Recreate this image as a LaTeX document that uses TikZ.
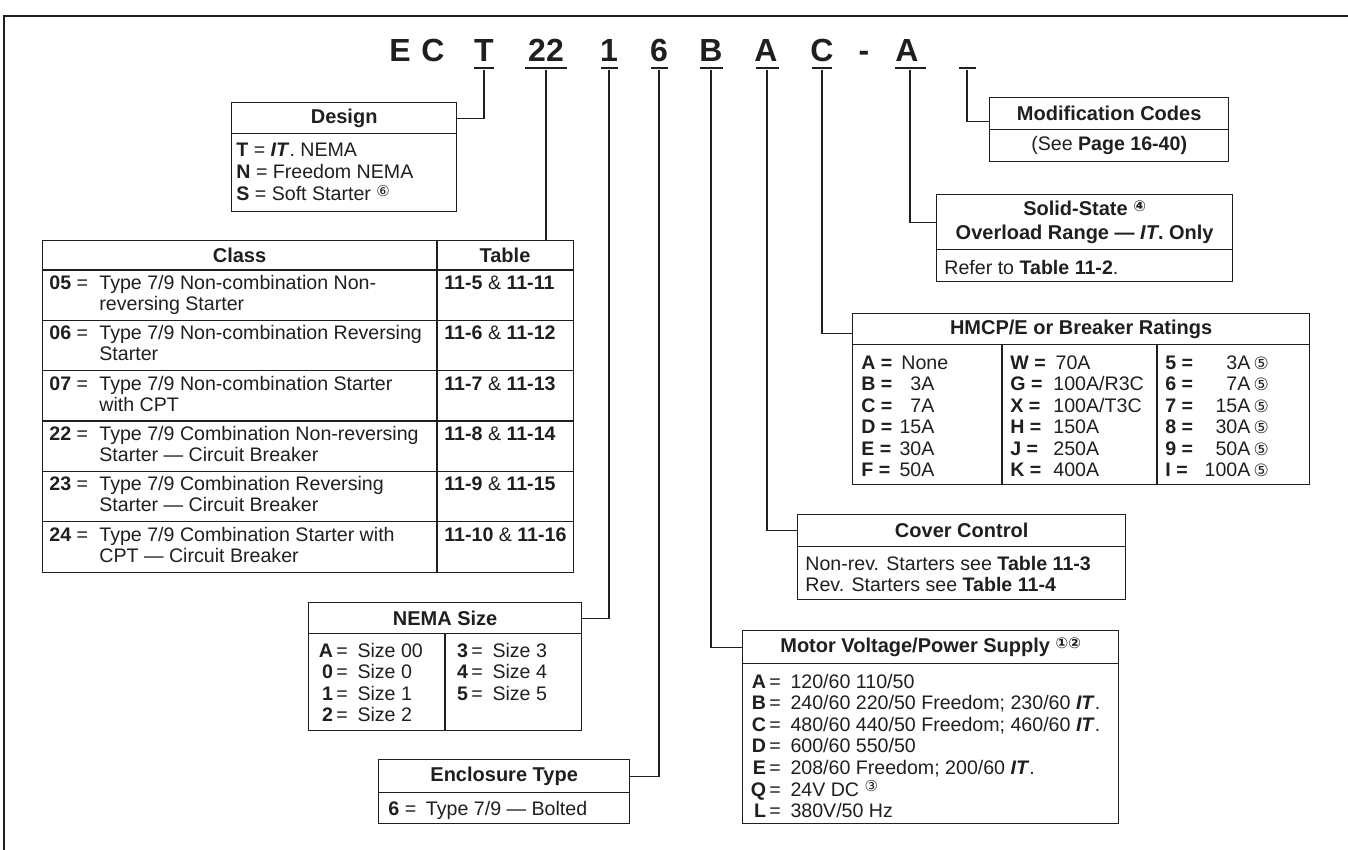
\documentclass[tikz,border=0pt]{standalone}
\usepackage{fontspec}
\setmainfont{Liberation Sans}
\newfontfamily\symfont{DejaVu Sans}
\usetikzlibrary{positioning}
\definecolor{ink}{gray}{0.12}
\newcommand{\circnum}[1]{\raisebox{0.45ex}{\symfont\fontsize{7.5}{7.5}\selectfont #1}}
\newcommand{\flatnum}[1]{{\symfont\fontsize{8.5}{8.5}\selectfont #1}}
\newcommand{\IT}{\textbf{\textit{IT}}}
\newcommand{\kv}[2]{\makebox[1em][r]{\bfseries #1}\,=\enspace #2}
\newcommand{\lines}[1]{\begin{tabular}[t]{@{}l@{}}#1\end{tabular}}
\tikzset{
    box/.style =        {rectangle,
                        draw=ink,
                        line width=0.65pt,
                        inner sep=0pt,
                        anchor=north west},
    head/.style =       {box,
                        font=\bfseries,
                        text=ink},
    codeletter/.style = {font=\fontsize{16}{16}\selectfont\bfseries,
                        text=ink,
                        anchor=base,
                        inner sep=0pt},
    uline/.style =      {fill=ink,
                        inner sep=0pt,
                        minimum height=1.4pt},
    link/.style =       {draw=ink,
                        line width=0.6pt},
    txt/.style =        {anchor=base west,
                        inner sep=0pt,
                        text=ink}}
\begin{document}
\begin{tikzpicture}[x=0.5pt,y=-0.5pt,font=\fontsize{9.8}{10.75}\selectfont]
    \useasboundingbox (0,0) rectangle (1348,850);
    % frame
    \draw[ink, line width=1pt] (1348,16) -- (4,16) -- (4,850);
    % catalog number
    \node[codeletter] (cE)  at (400,62) {E};
    \node[codeletter] (cC)  at (433,62) {C};
    \node[codeletter] (cT)  at (484,62) {T};
    \node[codeletter] (c22) at (546,62) {22};
    \node[codeletter] (c1)  at (609,62) {1};
    \node[codeletter] (c6)  at (659,62) {6};
    \node[codeletter] (cB)  at (711,62) {B};
    \node[codeletter] (cA)  at (766,62) {A};
    \node[codeletter] (cCC) at (822,62) {C};
    \node[codeletter] (cdash) at (864,62) {-};
    \node[codeletter] (cAA) at (907,62) {A};
    \node[uline, minimum width=10pt]   (uT)  at (484,68) {};
    \node[uline, minimum width=21pt]   (u22) at (546,68) {};
    \node[uline, minimum width=8.5pt]  (u1)  at (609,68) {};
    \node[uline, minimum width=8.5pt]  (u6)  at (659,68) {};
    \node[uline, minimum width=11.5pt] (uB)  at (711,68) {};
    \node[uline, minimum width=11.5pt] (uA)  at (767,68) {};
    \node[uline, minimum width=10pt]   (uCC) at (822,68) {};
    \node[uline, minimum width=15.5pt] (uAA) at (910,68) {};
    \node[uline, minimum width=8.5pt]  (ublank) at (967,68) {};

    % design
    \node[head, minimum width=112.5pt, minimum height=15.5pt] (designhead) at (231,102) {Design};
    \node[box, minimum width=112.5pt, minimum height=39pt] (designbody) at (231,133) {};
    \node[txt] (designtext) at (236,157) {\lines{\textbf{T} = \IT. NEMA\\\textbf{N} = Freedom NEMA\\\textbf{S} = Soft Starter \circnum{⑥}}};

    % class table
    \node[box, minimum width=265.5pt, minimum height=166pt] (classtab) at (42,240) {};
    \draw[link] (42,270) -- (573,270);
    \foreach \y in {320.3,370.7,421,471.3,521.7}
        \draw[link] (42,\y) -- (573,\y);
    \draw[link] (437,240) -- (437,572);
    \node[txt, anchor=center, font=\bfseries] (classhead) at (239.5,255) {Class};
    \node[txt, anchor=center, font=\bfseries] (tablehead) at (505,255) {Table};
    \node[txt] (k05) at (49,289) {\textbf{05} =};
    \node[txt] (d05) at (99,289) {\lines{Type 7/9 Non-combination Non-\\reversing Starter}};
    \node[txt] (t05) at (444,289) {\textbf{11-5} \& \textbf{11-11}};
    \node[txt] (k06) at (49,339) {\textbf{06} =};
    \node[txt] (d06) at (99,339) {\lines{Type 7/9 Non-combination Reversing\\Starter}};
    \node[txt] (t06) at (444,339) {\textbf{11-6} \& \textbf{11-12}};
    \node[txt] (k07) at (49,390) {\textbf{07} =};
    \node[txt] (d07) at (99,390) {\lines{Type 7/9 Non-combination Starter\\with CPT}};
    \node[txt] (t07) at (444,390) {\textbf{11-7} \& \textbf{11-13}};
    \node[txt] (k22) at (49,440) {\textbf{22} =};
    \node[txt] (d22) at (99,440) {\lines{Type 7/9 Combination Non-reversing\\Starter — Circuit Breaker}};
    \node[txt] (t22) at (444,440) {\textbf{11-8} \& \textbf{11-14}};
    \node[txt] (k23) at (49,490) {\textbf{23} =};
    \node[txt] (d23) at (99,490) {\lines{Type 7/9 Combination Reversing\\Starter — Circuit Breaker}};
    \node[txt] (t23) at (444,490) {\textbf{11-9} \& \textbf{11-15}};
    \node[txt] (k24) at (49,541) {\textbf{24} =};
    \node[txt] (d24) at (99,541) {\lines{Type 7/9 Combination Starter with\\CPT — Circuit Breaker}};
    \node[txt] (t24) at (444,541) {\textbf{11-10} \& \textbf{11-16}};

    % nema size
    \node[head, minimum width=136.5pt, minimum height=15.5pt] (nemahead) at (308,602) {NEMA Size};
    \node[box, minimum width=136.5pt, minimum height=48.5pt] (nemabody) at (308,633) {};
    \draw[link] (445,633) -- (445,730);
    \node[txt] (nemaleft) at (313,657) {\lines{\kv{A}{Size 00}\\\kv{0}{Size 0}\\\kv{1}{Size 1}\\\kv{2}{Size 2}}};
    \node[txt] (nemaright) at (448,657) {\lines{\kv{3}{Size 3}\\\kv{4}{Size 4}\\\kv{5}{Size 5}}};

    % enclosure
    \node[head, minimum width=125.5pt, minimum height=16.5pt] (enclhead) at (378,759) {Enclosure Type};
    \node[box, minimum width=125.5pt, minimum height=15.5pt] (enclbody) at (378,792) {};
    \node[txt] (encltext) at (388,815) {\textbf{6} =\enspace Type 7/9 — Bolted};

    % motor voltage
    \node[head, minimum width=188pt, minimum height=16.5pt] (motorhead) at (742,630) {Motor Voltage/Power Supply \circnum{①②}};
    \node[box, minimum width=188pt, minimum height=80pt] (motorbody) at (742,663) {};
    \node[txt] (motortext) at (746,688) {\lines{\kv{A}{120/60 110/50}\\\kv{B}{240/60 220/50 Freedom; 230/60 \IT.}\\\kv{C}{480/60 440/50 Freedom; 460/60 \IT.}\\\kv{D}{600/60 550/50}\\\kv{E}{208/60 Freedom; 200/60 \IT.}\\\kv{Q}{24V DC \circnum{③}}\\\kv{L}{380V/50 Hz}}};

    % cover control
    \node[head, minimum width=164pt, minimum height=16pt] (coverhead) at (797,514) {Cover Control};
    \node[box, minimum width=164pt, minimum height=26.5pt] (coverbody) at (797,546) {};
    \node[txt] (covertext) at (805,570) {\lines{Non-rev. Starters see \textbf{Table 11-3}\\Rev. Starters see \textbf{Table 11-4}}};

    % hmcp ratings
    \node[head, minimum width=228.5pt, minimum height=15.5pt] (hmcphead) at (852,313) {HMCP/E or Breaker Ratings};
    \node[box, minimum width=228.5pt, minimum height=70pt] (hmcpbody) at (852,344) {};
    \draw[link] (1002,344) -- (1002,484);
    \draw[link] (1157,344) -- (1157,484);
    \node[txt] (hmcpone) at (861,369) {\lines{\makebox[20pt][l]{\bfseries A =}None\\\makebox[20pt][l]{\bfseries B =}\makebox[16.5pt][r]{3A}\\\makebox[20pt][l]{\bfseries C =}\makebox[16.5pt][r]{7A}\\\makebox[20pt][l]{\bfseries D =}\makebox[16.5pt][r]{15A}\\\makebox[20pt][l]{\bfseries E =}\makebox[16.5pt][r]{30A}\\\makebox[20pt][l]{\bfseries F =}\makebox[16.5pt][r]{50A}}};
    \node[txt] (hmcptwo) at (1010,369) {\lines{\textbf{W =}\enspace 70A\\\makebox[21.5pt][l]{\bfseries G =}100A/R3C\\\makebox[21.5pt][l]{\bfseries X =}100A/T3C\\\makebox[21.5pt][l]{\bfseries H =}150A\\\makebox[21.5pt][l]{\bfseries J =}250A\\\makebox[21.5pt][l]{\bfseries K =}400A}};
    \node[txt] (hmcpthree) at (1165,369) {\lines{\makebox[16pt][l]{\bfseries 5 =}\makebox[26.5pt][r]{3A}\,\flatnum{⑤}\\\makebox[16pt][l]{\bfseries 6 =}\makebox[26.5pt][r]{7A}\,\flatnum{⑤}\\\makebox[16pt][l]{\bfseries 7 =}\makebox[26.5pt][r]{15A}\,\flatnum{⑤}\\\makebox[16pt][l]{\bfseries 8 =}\makebox[26.5pt][r]{30A}\,\flatnum{⑤}\\\makebox[16pt][l]{\bfseries 9 =}\makebox[26.5pt][r]{50A}\,\flatnum{⑤}\\\makebox[16pt][l]{\bfseries I =}\makebox[26.5pt][r]{100A}\,\flatnum{⑤}}};

    % solid-state overload
    \node[head, align=center, minimum width=148pt, minimum height=27.5pt] (solidhead) at (936,194) {Solid-State \circnum{④}\\Overload Range — \textit{IT}. Only};
    \node[box, minimum width=148pt, minimum height=16pt] (solidbody) at (936,249) {};
    \node[txt] (solidtext) at (944,274) {Refer to \textbf{Table 11-2}.};

    % modification codes
    \node[head, minimum width=119.5pt, minimum height=16pt] (modhead) at (989,97) {Modification Codes};
    \node[box, minimum width=119.5pt, minimum height=16pt, text=ink] (modbody) at (989,129) {(See \textbf{Page 16-40)}};

    % leaders
    \draw[link] (uT.south) |- (designhead.east);
    \draw[link] (u22.south) -- (u22.south |- classtab.north);
    \draw[link] (u1.south) |- (nemahead.east);
    \draw[link] (u6.south) |- (enclhead.east);
    \draw[link] (uB.south) |- (motorhead.west);
    \draw[link] (uA.south) |- (coverhead.west);
    \draw[link] (uCC.south) |- ([yshift=-2pt]hmcphead.west);
    \draw[link] (uAA.south) |- (solidhead.west);
    \draw[link] (ublank.south) |- ([yshift=-4pt]modhead.west);
\end{tikzpicture}
\end{document}
